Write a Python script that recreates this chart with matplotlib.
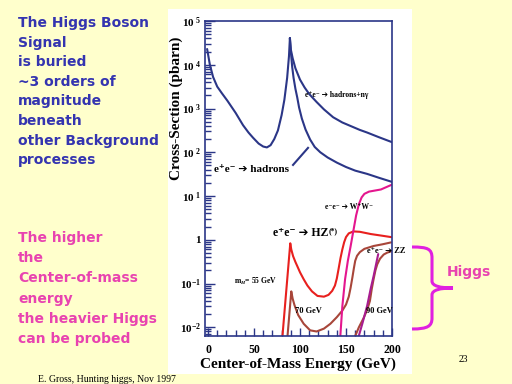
import numpy as np
import matplotlib
matplotlib.use('Agg')
from matplotlib import pyplot as plt
from matplotlib.patches import Rectangle, PathPatch
from matplotlib.path import Path
from matplotlib.ticker import FixedLocator, LogLocator, NullFormatter, FixedFormatter

plt.rcParams['mathtext.fontset'] = 'custom'
plt.rcParams['mathtext.rm'] = 'Liberation Serif:bold'
plt.rcParams['mathtext.bf'] = 'Liberation Serif:bold'
plt.rcParams['mathtext.it'] = 'Liberation Serif:bold:italic'

# cross sections in pb
had_E = [-1, 2, 5.5, 10, 15, 21, 30, 38, 44, 49, 55, 60, 64, 68, 72, 76, 80, 83, 86, 88, 89]
had_xs = [22900, 10000, 5250, 3160, 2240, 1510, 794, 417, 282, 214, 158, 135, 129, 145,
          200, 316, 708, 1585, 5010, 15800, 40700]

had_gam_E = [89, 90, 92, 95, 100, 105, 110, 118, 126, 136, 146, 155, 165, 173, 185, 200]
had_gam_xs = [40700, 22400, 14100, 8300, 4570, 3020, 2140, 1410, 955, 631, 479, 398,
              324, 282, 224, 170]

had_hi_E = [89, 90, 91.5, 93, 95, 97, 99, 102, 106, 111, 116, 122, 130, 140, 150, 160,
            173, 186, 200]
had_hi_xs = [40700, 20000, 8900, 5010, 2820, 1780, 1050, 589, 331, 195, 132, 100, 76,
             58, 46, 38, 32, 26, 21]

h55_E = [80.5, 89.4, 90.5, 92.5, 95, 97, 100, 104, 108, 113, 119, 126, 131, 135, 138,
         140, 142, 144, 146, 148, 150, 153, 158, 165, 177, 190, 199]
h55_xs = [0.005, 0.83, 0.6, 0.42, 0.31, 0.25, 0.18, 0.125, 0.09, 0.066, 0.052, 0.05,
          0.055, 0.068, 0.09, 0.13, 0.22, 0.38, 0.6, 0.88, 1.15, 1.4, 1.55, 1.52, 1.35,
          1.23, 1.15]

h70_E = [86, 90.5, 92, 94, 98, 104, 111, 118, 126, 133, 140, 146, 150, 153, 155, 157,
         158.5, 160, 162, 165, 170, 180, 190, 199]
h70_xs = [0.005, 0.066, 0.045, 0.032, 0.019, 0.012, 0.0085, 0.008, 0.0093, 0.012, 0.017,
          0.024, 0.033, 0.05, 0.08, 0.14, 0.22, 0.33, 0.43, 0.52, 0.62, 0.72, 0.79, 0.87]

h90_E = [158, 164, 169, 173, 176, 178, 180, 182, 184, 187, 191, 195, 200]
h90_xs = [0.005, 0.01, 0.016, 0.025, 0.04, 0.075, 0.126, 0.2, 0.275, 0.37, 0.46, 0.51, 0.55]

ww_E = [143.5, 146, 149, 152, 155, 158, 161, 164, 167, 170, 175, 188, 200]
ww_xs = [0.005, 0.03, 0.126, 0.33, 0.71, 1.6, 3.6, 6.5, 9.3, 11.2, 12.6, 14.1, 18.2]

zz_E = [162.5, 168, 173, 177, 180, 185]
zz_xs = [0.005, 0.0126, 0.031, 0.079, 0.148, 0.47]

y_ticks = [1e-2, 1e-1, 1, 1e1, 1e2, 1e3, 1e4, 1e5]
y_labels = [r'$10^{-2}$', r'$10^{-1}$', '1', r'$10^{\ 1}$', r'$10^{\ 2}$', r'$10^{\ 3}$',
            r'$10^{\ 4}$', r'$10^{\ 5}$']
x_ticks = [0, 50, 100, 150, 200]

blue_lines = ['The Higgs Boson', 'Signal', 'is buried', '~3 orders of',
              'magnitude', 'beneath', 'other Background', 'processes']
pink_lines = ['The higher', 'the', 'Center-of-mass', 'energy',
              'the heavier Higgs', 'can be probed']

navy = '#2b3687'
W, H = 512, 384


def px(x, y):
    # slide pixel (y down) -> figure fraction
    return x / W, 1 - y / H


fig = plt.figure(figsize=(5.12, 3.84), dpi=100)
fig.patch.set_facecolor('#ffffcc')

# white panel behind the chart
x0, y0 = px(168, 374)
fig.add_artist(Rectangle((x0, y0), (412 - 168) / W, (374 - 9) / H,
                         transform=fig.transFigure, facecolor='white',
                         edgecolor='none', zorder=0))

l, b = px(205, 336)
ax = fig.add_axes([l, b, (392 - 205) / W, (336 - 21) / H])
ax.set_facecolor('white')
ax.set_yscale('log')
ax.set_xlim(-3.3, 200)
ax.set_ylim(10 ** -2.2, 1e5)

kw = dict(lw=1.5, solid_joinstyle='round', solid_capstyle='round')
ax.plot(had_E, had_xs, color=navy, **kw)
ax.plot(had_gam_E, had_gam_xs, color=navy, **kw)
ax.plot(had_hi_E, had_hi_xs, color=navy, **kw)
ax.plot(h55_E, h55_xs, color='#e8201e', **kw)
ax.plot(h70_E, h70_xs, color='#a8463a', **kw)
ax.plot(h90_E, h90_xs, color='#a8463a', **kw)
ax.plot(ww_E, ww_xs, color='#e4168e', **kw)
ax.plot(zz_E, zz_xs, color='#a81c90', **kw)

# pointer for e+e- -> hadrons
ax.plot([92.4, 108.7], [10 ** 1.71, 10 ** 2.1], color=navy, lw=1.5)

for s in ax.spines.values():
    s.set_color(navy)
    s.set_linewidth(1.2)

ax.yaxis.set_major_locator(FixedLocator(y_ticks))
ax.yaxis.set_major_formatter(FixedFormatter(y_labels))
ax.yaxis.set_minor_locator(LogLocator(base=10, subs=np.arange(2, 10), numticks=20))
ax.yaxis.set_minor_formatter(NullFormatter())
ax.set_xticks(x_ticks)
ax.set_xticks(np.arange(10, 200, 10), minor=True)
ax.tick_params(axis='both', which='both', direction='in', color=navy, width=1.0)
ax.tick_params(axis='y', which='major', length=7, pad=3, labelsize=8)
ax.tick_params(axis='y', which='minor', length=4)
ax.tick_params(axis='x', which='major', length=6, pad=6, labelsize=8.5)
ax.tick_params(axis='x', which='minor', length=4)
for t in ax.get_xticklabels() + ax.get_yticklabels():
    t.set_family('Liberation Serif')
    t.set_weight('bold')

tk = dict(family=['Liberation Serif', 'DejaVu Sans'], weight='bold', color='black')
ax.text(105.4, 2040, 'e⁺e⁻ ➔ hadrons+nγ', fontsize=5.5, va='center', **tk)
ax.text(6.5, 40, 'e⁺e⁻ ➔ hadrons', fontsize=8, va='center', **tk)
ax.text(127, 5.6, 'e⁻e⁻ ➔ W⁺W⁻', fontsize=5.5, va='center', **tk)
hz = ax.text(70.7, 1.45, 'e⁺e⁻ ➔ HZ', fontsize=8.5, va='center', **tk)
ax.annotate('(*)', xy=(1, 0.95), xycoords=hz, va='top', ha='left',
            fontsize=5.5, **tk)
ax.text(28, 0.11, r'm$_H$= 55 GeV', fontsize=5.5, va='center', **tk)
ax.text(94.6, 0.023, '70 GeV', fontsize=6, va='center', **tk)
ax.text(171.7, 0.023, '90 GeV', fontsize=6, va='center', **tk)
ax.text(172.8, 0.54, 'e⁺e⁻ ➔ ZZ', fontsize=6, va='center', **tk)

fig.text(*px(176, 108), 'Cross-Section (pbarn)', rotation=90, ha='center',
         va='center', fontsize=11, **tk)
fig.text(*px(298, 364), 'Center-of-Mass Energy (GeV)', ha='center',
         va='center', fontsize=11, **tk)

# slide text
sl = dict(fontsize=10, family='DejaVu Sans', weight='bold', va='baseline')
for i, line in enumerate(blue_lines):
    fig.text(*px(18, 27 + 19.6 * i), line, color='#3434b0', **sl)
for i, line in enumerate(pink_lines):
    fig.text(*px(18, 242 + 20.2 * i), line, color='#e843b0', **sl)
fig.text(*px(447, 276), 'Higgs', color='#e843b0', **sl)
fig.text(*px(38, 380), 'E. Gross, Hunting higgs, Nov 1997', fontsize=7,
         family='Liberation Serif', va='center')
fig.text(*px(463, 359), '23', fontsize=7, family='Liberation Serif',
         ha='center', va='center')

# curly brace
verts = [(412, 247), (428, 247), (432, 249), (432, 258), (432, 281),
         (432, 286), (440, 288), (453, 288),
         (440, 288), (432, 290), (432, 295), (432, 318),
         (432, 326), (428, 329), (412, 329)]
codes = [Path.MOVETO, Path.CURVE4, Path.CURVE4, Path.CURVE4, Path.LINETO,
         Path.CURVE4, Path.CURVE4, Path.CURVE4,
         Path.CURVE4, Path.CURVE4, Path.CURVE4, Path.LINETO,
         Path.CURVE4, Path.CURVE4, Path.CURVE4]
brace = Path([px(x, y) for x, y in verts], codes)
fig.add_artist(PathPatch(brace, transform=fig.transFigure, facecolor='none',
                         edgecolor='#e020e0', lw=2.2))

fig.savefig('out.png', dpi=100, facecolor=fig.get_facecolor())
